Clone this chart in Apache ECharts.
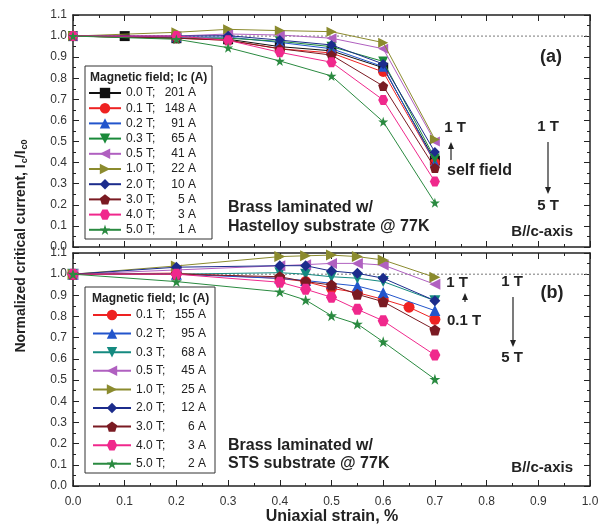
<!DOCTYPE html>
<html>
<head>
<meta charset="utf-8">
<script src="https://cdn.jsdelivr.net/npm/echarts@6/dist/echarts.min.js"></script>
<style>html,body{margin:0;padding:0;background:#fff}#c{width:606px;height:526px}</style>
</head>
<body>
<div id="c"></div>
<script>
// ---------- data ----------
const xTicks = ['0.0','0.1','0.2','0.3','0.4','0.5','0.6','0.7','0.8','0.9','1.0'];
const strainA = [0, 0.1, 0.2, 0.3, 0.4, 0.5, 0.6, 0.7];
const a00 = [1.0, 1.0, 0.99, 0.985, 0.95, 0.93, 0.85, 0.41];
const a01 = [1.0, null, 0.99, 0.98, 0.94, 0.92, 0.83, 0.40];
const a02 = [1.0, null, 0.995, 0.995, 0.97, 0.94, 0.855, 0.40];
const a03 = [1.0, null, 0.99, 0.99, 0.975, 0.95, 0.88, 0.42];
const a05 = [1.0, null, 1.0, 1.01, 1.005, 0.99, 0.94, 0.50];
const a10 = [1.0, null, 1.018, 1.032, 1.026, 1.021, 0.969, 0.51];
const a20 = [1.0, null, 1.0, 1.002, 0.981, 0.958, 0.868, 0.45];
const a30 = [1.0, null, 0.99, 0.98, 0.94, 0.91, 0.763, 0.375];
const a40 = [1.0, null, 1.0, 0.98, 0.923, 0.876, 0.697, 0.31];
const a50 = [1.0, null, 0.985, 0.945, 0.882, 0.811, 0.594, 0.21];

const strainB = [0, 0.2, 0.4, 0.45, 0.5, 0.55, 0.6, 0.65, 0.7];
const b01 = [1.0, 1.005, 0.98, 0.965, 0.933, 0.913, 0.881, 0.844, 0.787];
const b02 = [1.0, 1.0, 0.98, 0.97, 0.957, 0.944, 0.913, null, 0.828];
const b03 = [1.0, 1.0, 1.007, 1.0, 0.988, 0.981, 0.965, null, 0.875];
const b05 = [1.0, 1.02, 1.04, 1.045, 1.051, 1.051, 1.043, null, 0.952];
const b10 = [1.0, 1.039, 1.083, 1.087, 1.09, 1.083, 1.067, null, 0.985];
const b20 = [1.0, 1.033, 1.04, 1.04, 1.015, 1.004, 0.981, null, 0.875];
const b30 = [1.0, 1.0, 0.988, 0.965, 0.949, 0.905, 0.870, null, 0.737];
const b40 = [1.0, 1.0, 0.962, 0.929, 0.891, 0.834, 0.78, null, 0.618];
const b50 = [1.0, 0.965, 0.917, 0.878, 0.804, 0.765, 0.681, null, 0.504];

const labelsA = [['0.0 T;','201 A'],['0.1 T;','148 A'],['0.2 T;','91 A'],['0.3 T;','65 A'],['0.5 T;','41 A'],['1.0 T;','22 A'],['2.0 T;','10 A'],['3.0 T;','5 A'],['4.0 T;','3 A'],['5.0 T;','1 A']];
const labelsB = [['0.1 T;','155 A'],['0.2 T;','95 A'],['0.3 T;','68 A'],['0.5 T;','45 A'],['1.0 T;','25 A'],['2.0 T;','12 A'],['3.0 T;','6 A'],['4.0 T;','3 A'],['5.0 T;','2 A']];

// ---------- styles ----------
const SYM = {
  rect: 'rect', circle: 'circle', up: 'triangle', diamond: 'diamond',
  down: 'path://M0,0 L10,0 L5,9 Z',
  left: 'path://M0,5 L9,0 L9,10 Z',
  right: 'path://M0,0 L9,5 L0,10 Z',
  pent: 'path://M5,0 L10,3.8 L8.1,10 L1.9,10 L0,3.8 Z',
  hex: 'path://M2.5,0 L7.5,0 L10,4.33 L7.5,8.66 L2.5,8.66 L0,4.33 Z',
  star: 'path://M5,0 L6.2,3.6 L10,3.6 L6.9,5.9 L8.1,9.5 L5,7.3 L1.9,9.5 L3.1,5.9 L0,3.6 L3.8,3.6 Z'
};
const stA = [
  ['#111111','rect'],['#ee2222','circle'],['#2255cc','up'],['#1a8a3a','down'],['#b060c0','left'],
  ['#8b8b2e','right'],['#1c2c8c','diamond'],['#7a1a22','pent'],['#f0288c','hex'],['#2a8a40','star']
];
const stB = [
  ['#ee2222','circle'],['#2255cc','up'],['#158a80','down'],['#b060c0','left'],
  ['#8b8b2e','right'],['#1c2c8c','diamond'],['#7a1a22','pent'],['#f0288c','hex'],['#2a8a40','star']
];
const seriesA = [a00,a01,a02,a03,a05,a10,a20,a30,a40,a50];
const seriesB = [b01,b02,b03,b05,b10,b20,b30,b40,b50];

function pairs(xs, ys){ const out=[]; for(let i=0;i<xs.length;i++){ if(ys[i]!==null) out.push([xs[i], ys[i]]); } return out; }

const series = [];
const legA = [], legB = [];
seriesA.forEach((ys,i)=>{
  const name = 'a|'+labelsA[i][0]+'|'+labelsA[i][1];
  legA.push(name);
  series.push({type:'line', name, xAxisIndex:0, yAxisIndex:0, data:pairs(strainA, ys),
    symbol: SYM[stA[i][1]], symbolSize: 10, color: stA[i][0],
    lineStyle:{width:1, color: stA[i][0]}, itemStyle:{color: stA[i][0]}, z: 3+i, animation:false});
});
seriesB.forEach((ys,i)=>{
  const name = 'b|'+labelsB[i][0]+'|'+labelsB[i][1];
  legB.push(name);
  series.push({type:'line', name, xAxisIndex:2, yAxisIndex:2, data:pairs(strainB, ys),
    symbol: SYM[stB[i][1]], symbolSize: 11, color: stB[i][0],
    lineStyle:{width:1, color: stB[i][0]}, itemStyle:{color: stB[i][0]}, z: 3+i, animation:false});
});
// dotted reference lines at 1.0
series.push({type:'line', xAxisIndex:0, yAxisIndex:0, data:[[0,1],[1,1]], symbol:'none', silent:true,
  lineStyle:{type:[2,2], width:1, color:'#777'}, z:1, animation:false});
series.push({type:'line', xAxisIndex:2, yAxisIndex:2, data:[[0,1],[1,1]], symbol:'none', silent:true,
  lineStyle:{type:[2,2], width:1, color:'#777'}, z:1, animation:false});

const axisLine = {show:true, onZero:false, lineStyle:{color:'#222', width:1.5}};
function xAx(grid, pos, labels){
  return {type:'value', gridIndex:grid, position:pos, min:0, max:1, interval:0.1,
    axisLine, axisTick:{show:true, inside:true, length:6, lineStyle:{color:'#222'}},
    minorTick:{show:true, splitNumber:2, length:3, lineStyle:{color:'#222'}},
    splitLine:{show:false},
    axisLabel:{show:labels, color:'#333', fontSize:12, fontFamily:'Liberation Sans, Arial', margin:10,
      formatter:(v)=>xTicks[Math.round(v*10)]}};
}
function yAx(grid, pos, labels){
  return {type:'value', gridIndex:grid, position:pos, min:0, max:1.1, interval:0.1,
    axisLine, axisTick:{show:true, inside:true, length:6, lineStyle:{color:'#222'}},
    minorTick:{show:true, splitNumber:2, length:3, lineStyle:{color:'#222'}},
    splitLine:{show:false},
    axisLabel:{show:labels, color:'#333', fontSize:12, fontFamily:'Liberation Sans, Arial', margin:6,
      formatter:(v)=>v.toFixed(1)}};
}

function legend(data, left, top, gap, iw, aw, bw){
  return {data, orient:'vertical', left, top, itemGap:gap, itemWidth:iw, itemHeight:13,
    selectedMode:false, padding:0, z:60,
    formatter:(n)=>{const p=n.split('|'); return '{a|'+p[1]+'}{b|'+p[2]+'}';},
    textStyle:{color:'#222', fontSize:12, fontFamily:'Liberation Sans, Arial',
      rich:{a:{width:aw, fontSize:12, color:'#222'}, b:{width:bw, align:'right', fontSize:12, color:'#222'}}}};
}

const bold = 'bold';
function txt(x,y,t,size,align){ return {type:'text', x, y, z:100, style:{text:t, fill:'#222', font: bold+' '+size+'px "Liberation Sans", Arial', align: align||'center', verticalAlign:'middle'}}; }
function arrow(x, y1, y2){ // from y1 to y2, head at y2
  const d = y2>y1 ? 1 : -1;
  return [
    {type:'line', z:100, shape:{x1:x, y1:y1, x2:x, y2:y2 - d*4}, style:{stroke:'#222', lineWidth:1.2}},
    {type:'polygon', z:100, shape:{points:[[x-3, y2-d*7],[x+3, y2-d*7],[x, y2]]}, style:{fill:'#222'}}
  ];
}

const graphic = [
  {type:'rect', z:1, shape:{x:85, y:66, width:127, height:173}, style:{fill:'#fff', stroke:'#333', lineWidth:1}},
  {type:'rect', z:1, shape:{x:85, y:287, width:130, height:186}, style:{fill:'#fff', stroke:'#333', lineWidth:1}},
  {type:'text', z:100, x:90, y:78, style:{text:'Magnetic field; Ic (A)', fill:'#222', font:'bold 12px "Liberation Sans", Arial', verticalAlign:'middle'}},
  {type:'text', z:100, x:92, y:299, style:{text:'Magnetic field; Ic (A)', fill:'#222', font:'bold 12px "Liberation Sans", Arial', verticalAlign:'middle'}},
  txt(551, 57, '(a)', 18),
  txt(552, 293, '(b)', 18),
  txt(455, 128, '1 T', 15),
  txt(447, 171, 'self field', 16, 'left'),
  txt(548, 127, '1 T', 15),
  txt(548, 206, '5 T', 15),
  txt(573, 232, 'B//c-axis', 15, 'right'),
  txt(228, 208, 'Brass laminated w/', 16, 'left'),
  txt(228, 227, 'Hastelloy substrate @ 77K', 16, 'left'),
  txt(457, 283, '1 T', 15),
  txt(447, 321, '0.1 T', 15, 'left'),
  txt(512, 282, '1 T', 15),
  txt(512, 358, '5 T', 15),
  txt(573, 468, 'B//c-axis', 15, 'right'),
  txt(228, 446, 'Brass laminated w/', 16, 'left'),
  txt(228, 464, 'STS substrate @ 77K', 16, 'left'),
  txt(332, 517, 'Uniaxial strain, %', 16),
  {type:'text', z:100, x:21, y:246, rotation:Math.PI/2,
    style:{text:'Normalized critical current, I{s|c}/I{s|c0}', fill:'#222', font:'bold 14px "Liberation Sans", Arial',
      align:'center', verticalAlign:'middle',
      rich:{s:{font:'bold 9px "Liberation Sans", Arial', fill:'#222', padding:[7,0,0,1]}}}}
].concat(arrow(451,160,142), arrow(548,142,194), arrow(465,302,293), arrow(513,297,347));

const option = {
  backgroundColor:'#fff',
  animation:false,
  grid:[{left:73, top:15, width:517, height:232}, {left:73, top:253, width:517, height:233}],
  xAxis:[xAx(0,'bottom',false), xAx(0,'top',false), xAx(1,'bottom',true), xAx(1,'top',false)],
  yAxis:[yAx(0,'left',true), yAx(0,'right',false), yAx(1,'left',true), yAx(1,'right',false)],
  legend:[legend(legA, 88, 87, 3.2, 32, 40, 30), legend(legB, 92, 309, 6.6, 38, 40, 30)],
  graphic,
  series
};
const chart = echarts.init(document.getElementById('c'), null, {renderer:'canvas'});
chart.setOption(option);
</script>
</body>
</html>
